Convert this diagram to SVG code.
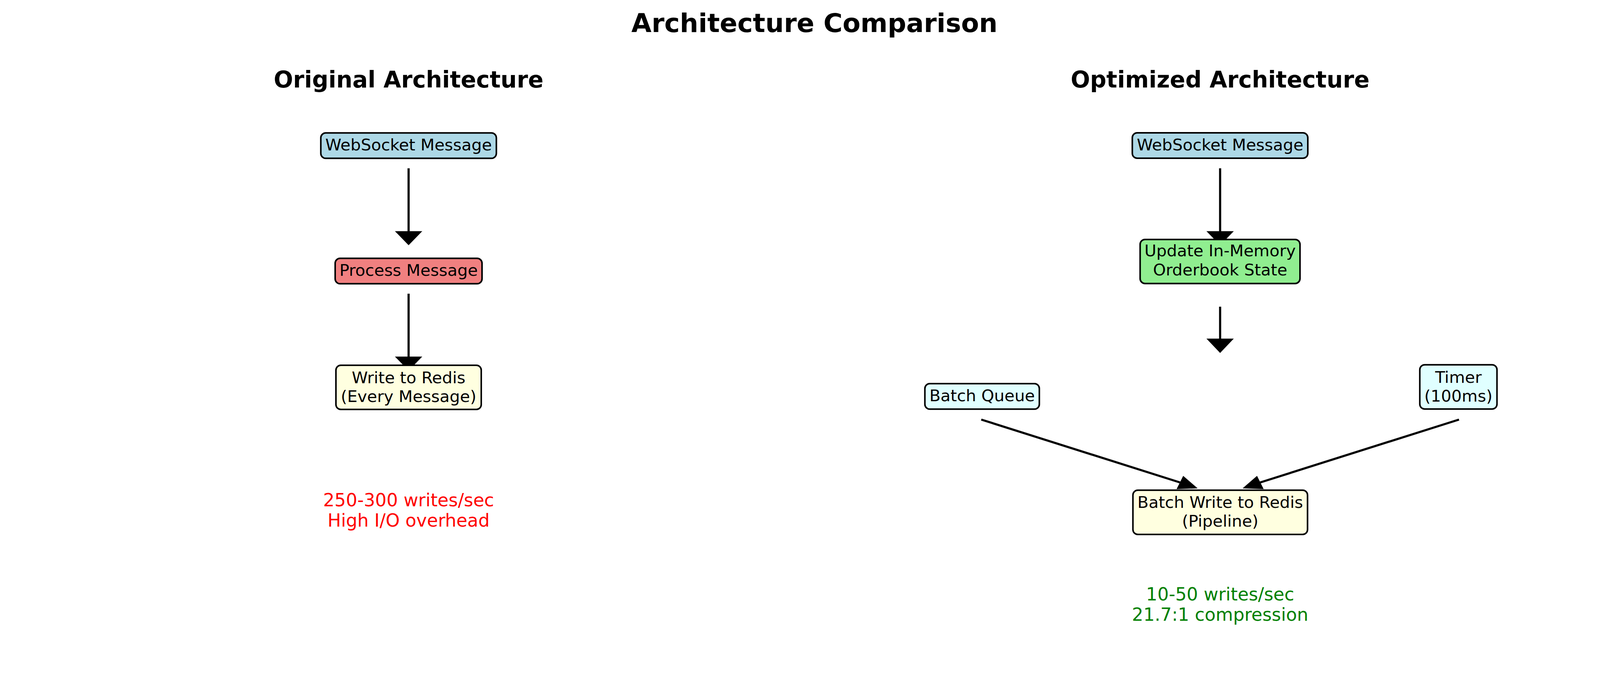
<svg xmlns="http://www.w3.org/2000/svg" width="4170" height="1779" viewBox="0 0 4170 1779">
<style>
text { font-family: "DejaVu Sans", "Liberation Sans", sans-serif; text-anchor: middle; }
.title { font-size: 66.7px; font-weight: bold; fill: #000; }
.sub { font-size: 58.3px; font-weight: bold; fill: #000; }
.lbl { font-size: 41.7px; fill: #000; }
.metric { font-size: 45.8px; }
.box { stroke: #000; stroke-width: 4; }
.shaft { stroke: #000; stroke-width: 5.5; fill: none; }
.head { fill: #000; stroke: none; }
</style>
<rect x="0" y="0" width="4170" height="1779" fill="#ffffff"/>
<text class="title" x="2085" y="82">Architecture Comparison</text>
<text class="sub" x="1046" y="224">Original Architecture</text>
<text class="sub" x="3123.5" y="224">Optimized Architecture</text>

<g id="connectors">
  <line class="shaft" x1="1046" y1="430.7" x2="1046" y2="593"/>
  <polygon class="head" points="1011,591.7 1081,591.7 1046,627.7"/>
  <line class="shaft" x1="1046" y1="751.7" x2="1046" y2="914"/>
  <polygon class="head" points="1011,912.7 1081,912.7 1046,948.7"/>
  <line class="shaft" x1="3123.5" y1="430.7" x2="3123.5" y2="593"/>
  <polygon class="head" points="3088.5,591.7 3158.5,591.7 3123.5,627.7"/>
  <line class="shaft" x1="3123.5" y1="785" x2="3123.5" y2="868"/>
  <polygon class="head" points="3088.5,866.7 3158.5,866.7 3123.5,903.5"/>
  <line class="shaft" x1="2512" y1="1074" x2="3021" y2="1235"/>
  <polygon class="head" points="3029,1218 3066,1250 3012,1252"/>
  <line class="shaft" x1="3735" y1="1074" x2="3226" y2="1235"/>
  <polygon class="head" points="3218,1218 3181,1250 3235,1252"/>
</g>

<g id="orig-websocket">
  <rect class="box" x="821.3" y="340.3" width="449.4" height="65" rx="12.5" fill="#ADD8E6"/>
  <text class="lbl" x="1046" y="385">WebSocket Message</text>
</g>
<g id="orig-process">
  <rect class="box" x="858" y="661.3" width="376" height="65" rx="12.5" fill="#F08080"/>
  <text class="lbl" x="1046" y="706">Process Message</text>
</g>
<g id="orig-write">
  <rect class="box" x="860" y="935" width="372" height="113" rx="12.5" fill="#FFFFE0"/>
  <text class="lbl" x="1046" y="980.5">Write to Redis</text>
  <text class="lbl" x="1046" y="1029">(Every Message)</text>
</g>
<g id="orig-metrics">
  <text class="metric" x="1046" y="1296" fill="#FF0000">250-300 writes/sec</text>
  <text class="metric" x="1046" y="1347.5" fill="#FF0000">High I/O overhead</text>
</g>

<g id="opt-websocket">
  <rect class="box" x="2898.7" y="340" width="449.3" height="65" rx="12.5" fill="#ADD8E6"/>
  <text class="lbl" x="3123.5" y="385">WebSocket Message</text>
</g>
<g id="opt-update">
  <rect class="box" x="2918.7" y="613" width="409.3" height="112.7" rx="12.5" fill="#90EE90"/>
  <text class="lbl" x="3123.5" y="656">Update In-Memory</text>
  <text class="lbl" x="3123.5" y="705">Orderbook State</text>
</g>
<g id="opt-batch-queue">
  <rect class="box" x="2367.7" y="982" width="293" height="65.3" rx="12.5" fill="#E0FFFF"/>
  <text class="lbl" x="2514.2" y="1027.3">Batch Queue</text>
</g>
<g id="opt-timer">
  <rect class="box" x="3634.7" y="933.7" width="197.6" height="113.3" rx="12.5" fill="#E0FFFF"/>
  <text class="lbl" x="3733.5" y="980">Timer</text>
  <text class="lbl" x="3733.5" y="1028.3">(100ms)</text>
</g>
<g id="opt-batch-write">
  <rect class="box" x="2900.3" y="1254.7" width="447" height="113.3" rx="12.5" fill="#FFFFE0"/>
  <text class="lbl" x="3123.8" y="1300">Batch Write to Redis</text>
  <text class="lbl" x="3123.8" y="1348.3">(Pipeline)</text>
</g>
<g id="opt-metrics">
  <text class="metric" x="3123.5" y="1537" fill="#008000">10-50 writes/sec</text>
  <text class="metric" x="3123.5" y="1589" fill="#008000">21.7:1 compression</text>
</g>
</svg>
